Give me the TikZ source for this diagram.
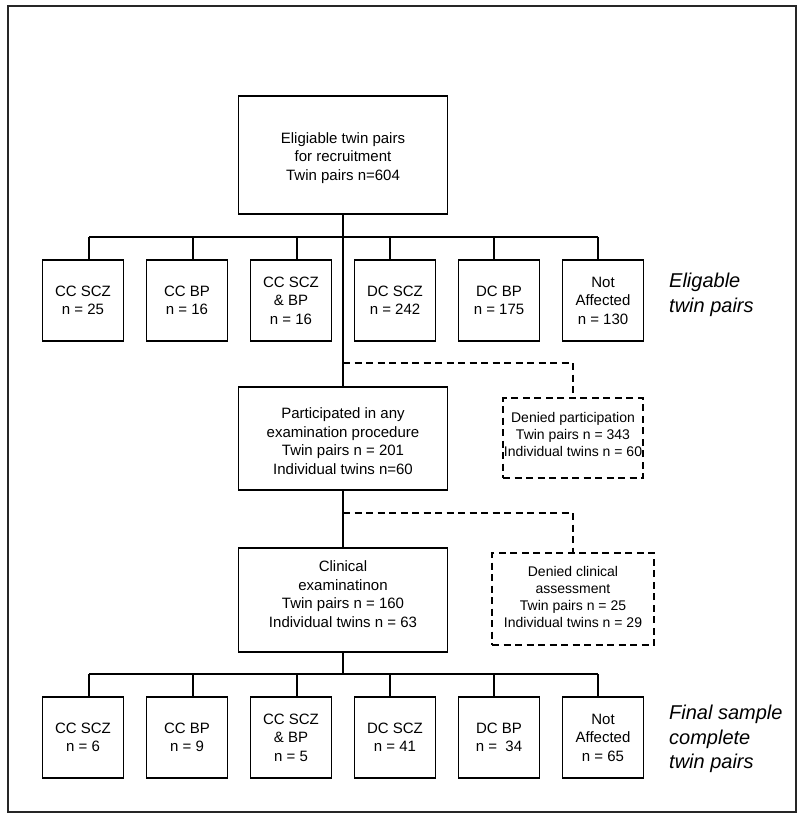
\documentclass[tikz,border=0pt]{standalone}
\usepackage{fontspec}
\setmainfont{Liberation Sans}
\usetikzlibrary{calc}
\begin{document}
\begin{tikzpicture}[x=1pt,y=-1pt,
  box/.style={draw, line width=1.2pt, inner sep=0pt, align=center, font=\fontsize{15}{18.5}\selectfont},
  catbox/.style={box, minimum width=81pt, minimum height=81pt},
  mainbox/.style={draw, line width=1.2pt, inner sep=0pt, minimum width=209pt},
  maintext/.style={inner sep=0pt, align=center, font=\fontsize{15}{18.5}\selectfont},
  denybox/.style={draw, line width=1.2pt, dash pattern=on 7pt off 4.5pt, inner sep=0pt},
  denytext/.style={inner sep=0pt, align=center, font=\fontsize{14}{17}\selectfont},
  conn/.style={line width=1.2pt},
  dconn/.style={line width=1.2pt, dash pattern=on 7pt off 4.5pt},
  side/.style={align=left, anchor=west, inner sep=0pt, font=\fontsize{20}{24.7}\selectfont\itshape}]
\useasboundingbox (0,0) rectangle (800,820);
\draw[line width=1.8pt, black!85] (8,6) rectangle (796,812);

% main boxes
\node[mainbox, minimum height=118pt] (top) at (343,155) {};
\node[maintext] (toptxt) at (343,158) {Eligiable twin pairs\\for recruitment\\Twin pairs n=604};
\node[mainbox, minimum height=103pt] (part) at (343,438.5) {};
\node[maintext] (parttxt) at (343,441) {Participated in any\\examination procedure\\Twin pairs n = 201\\Individual twins n=60};
\node[mainbox, minimum height=104pt] (clin) at (343,600) {};
\node[maintext] (clintxt) at (343,594) {Clinical\\examinatinon\\Twin pairs n = 160\\Individual twins n = 63};

% denied boxes
\node[denybox, minimum width=140pt, minimum height=80pt] (dpart) at (573,438) {};
\node[denytext] (dparttxt) at (573,434) {Denied participation\\Twin pairs n = 343\\Individual twins n = 60};
\node[denybox, minimum width=162pt, minimum height=92pt] (dclin) at (573,599) {};
\node[denytext] (dclintxt) at (573,597) {Denied clinical\\assessment\\Twin pairs n = 25\\Individual twins n = 29};

% row 1
\node[catbox] (a1) at (83,300.5) {CC SCZ\\n = 25};
\node[catbox] (a2) at (187,300.5) {CC BP\\n = 16};
\node[catbox] (a3) at (291,300.5) {CC SCZ\\\& BP\\n = 16};
\node[catbox] (a4) at (395,300.5) {DC SCZ\\n = 242};
\node[catbox] (a5) at (499,300.5) {DC BP\\n = 175};
\node[catbox] (a6) at (603,300.5) {Not\\Affected\\n = 130};
\node[side] (lab1) at (669,295) {Eligable\\twin pairs};

% row 2
\node[catbox] (b1) at (83,737.5) {CC SCZ\\n = 6};
\node[catbox] (b2) at (187,737.5) {CC BP\\n = 9};
\node[catbox] (b3) at (291,737.5) {CC SCZ\\\& BP\\n = 5};
\node[catbox] (b4) at (395,737.5) {DC SCZ\\n = 41};
\node[catbox] (b5) at (499,737.5) {DC BP\\n =\ \ 34};
\node[catbox] (b6) at (603,737.5) {Not\\Affected\\n = 65};
\node[side] (lab2) at (669,739) {Final sample\\complete\\twin pairs};

% bus coordinates
\coordinate (u1) at (89,237);
\coordinate (u2) at (193,237);
\coordinate (u3) at (297,237);
\coordinate (u4) at (390,237);
\coordinate (u5) at (494,237);
\coordinate (u6) at (598,237);
\coordinate (v1) at (89,674);
\coordinate (v2) at (193,674);
\coordinate (v3) at (297,674);
\coordinate (v4) at (390,674);
\coordinate (v5) at (494,674);
\coordinate (v6) at (598,674);
\coordinate (vm) at (343,674);

% solid connectors
\draw[conn] (top.south) -- (part.north);
\draw[conn] (part.south) -- (clin.north);
\draw[conn] (clin.south) -- (vm);
\draw[conn] (u1) -- (u6);
\draw[conn] (v1) -- (v6);
\foreach \i in {1,...,6}{
  \draw[conn] (u\i) -- (u\i |- a\i.north);
  \draw[conn] (v\i) -- (v\i |- b\i.north);
}

% dashed connectors
\coordinate (d1) at (343,363);
\coordinate (d2) at (343,513);
\draw[dconn] (d1) -- (d1 -| dpart.north) -- (dpart.north);
\draw[dconn] (d2) -- (d2 -| dclin.north) -- (dclin.north);
\end{tikzpicture}
\end{document}
